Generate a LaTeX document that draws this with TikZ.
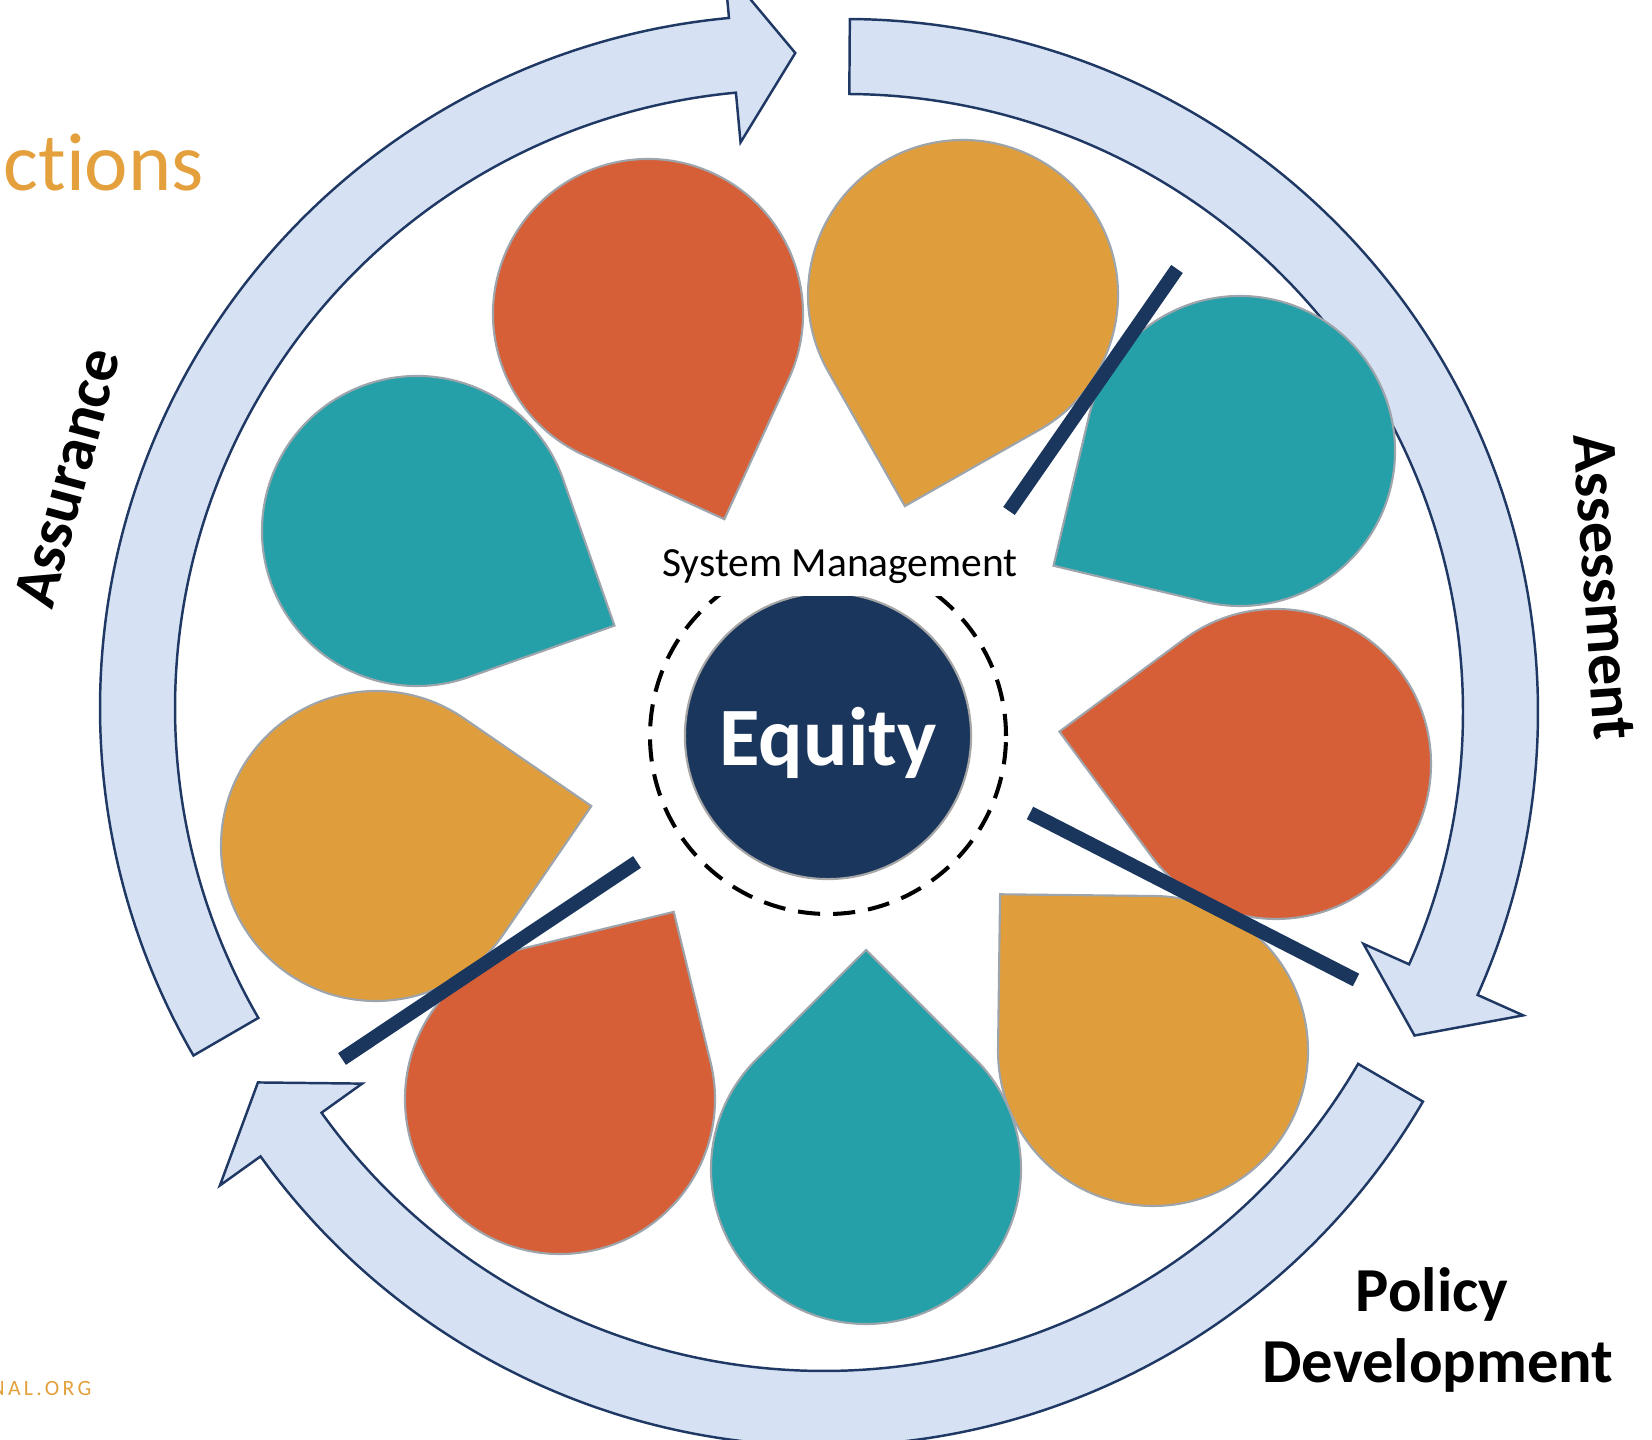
\documentclass[tikz,border=0pt]{standalone}
\usepackage{fontspec}
\setmainfont{Carlito}[Ligatures=NoCommon]
\usepackage{xcolor}
\usepackage{tikz}

\definecolor{petred}{HTML}{D65F37}
\definecolor{petgold}{HTML}{DF9E3B}
\definecolor{petteal}{HTML}{25A0A8}
\definecolor{petline}{HTML}{9EA4AB}
\definecolor{navy}{HTML}{1B365D}
\definecolor{ringblue}{HTML}{D6E2F3}
\definecolor{ringline}{HTML}{1F3864}
\definecolor{titleorange}{HTML}{E3A03D}

\begin{document}
\begin{tikzpicture}[x=0.01cm, y=0.01cm,
	ringarrow/.style={fill=ringblue, draw=ringline, line width=0.7pt, line join=miter},
	petal/.style={draw=petline, line width=0.6pt},
	divider/.style={draw=navy, line width=4pt},
	ringdash/.style={draw=black, line width=1.15pt, dash pattern=on 6.3pt off 3.7pt},
	core/.style={circle, fill=navy, draw=gray!70, line width=0.6pt, minimum size=2.86cm, inner sep=0pt, text depth=0pt, text=white, font=\fontsize{23.6}{28}\selectfont\bfseries},
	phase/.style={inner sep=0pt, font=\fontsize{17.8}{21}\selectfont\bfseries},
	orangetext/.style={inner sep=0pt, text=titleorange, anchor=base west}]

\useasboundingbox (0,0) rectangle (1652,1440);
\clip (0,0) rectangle (1652,1440);

\foreach \cx/\cy/\t/\b/\p in {793/732/210.1/95.3/89.8, 845/728/89.6/-24.1/-29.6, 824/687/-30.2/-144.4/-149.8}{
	\begin{scope}[shift={(\cx,\cy)}]
	\draw[ringarrow] (\t:693) arc[start angle=\t, end angle=\b, radius=693] -- (\b:743) -- (\p:655) -- (\b:568) -- (\b:618) arc[start angle=\b, end angle=\t, radius=618] -- cycle;
	\end{scope}
}

\foreach \x/\y/\d/\c in {648/1126/-69.6/petred, 963/1145/-105.4/petgold, 1240/989/-148.4/petteal,
	1276/676/171.5/petred, 1153/389/134.3/petgold, 866/271/90/petteal,
	560/341/58.7/petred, 376/594/10.5/petgold, 417/909/-25.6/petteal}{
	\draw[petal, fill=\c, shift={(\x,\y)}] (\d:219) -- ({\d+45}:155) arc[start angle={\d+45}, end angle={\d+315}, radius=155] -- cycle;
}

\draw[divider] (1009,929) -- (1177,1171);
\draw[divider] (1030,627) -- (1356,460);
\draw[divider] (637,578) -- (342,381);

\node[core] (equity) at (828,704) {Equity};
\draw[ringdash] (equity.center) circle[radius=178];

\node[fill=white, anchor=south, inner sep=3.5pt, font=\fontsize{11.8}{14}\selectfont] (sysmgmt) at (840,843) {System Management};

\node[phase, rotate=75] (assurance) at (67,962) {Assurance};
\node[phase, rotate=-86] (assessment) at (1604,853) {Assessment};
\node[phase, anchor=base] (policy) at (1432,128) {Policy};
\node[phase, anchor=base] (development) at (1438,57) {Development};

\node[orangetext, font=\fontsize{23.4}{28}\selectfont] (title) at (3,1249) {ctions};
\node[orangetext, font=\fontsize{6.2}{8}\selectfont\addfontfeature{LetterSpace=15}] (site) at (-10,44) {NAL.ORG};

\end{tikzpicture}
\end{document}
